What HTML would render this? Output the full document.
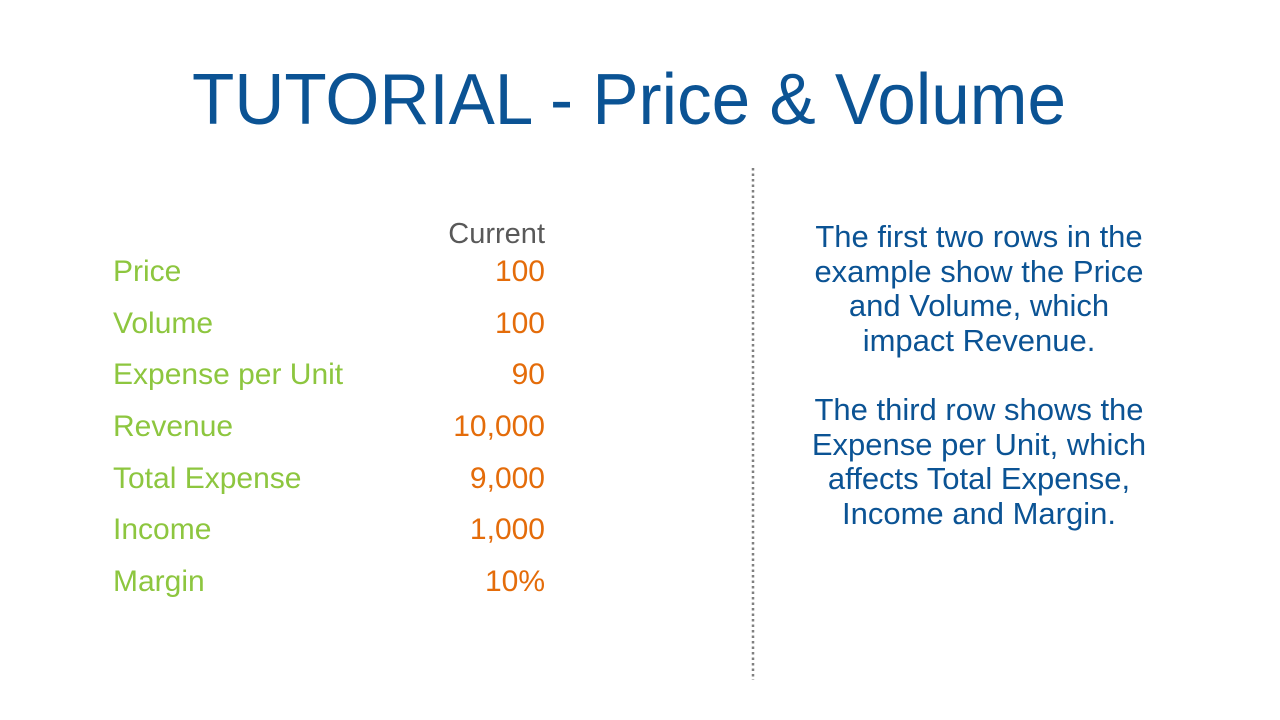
<!DOCTYPE html>
<html><head><meta charset="utf-8"><style>
html,body{margin:0;padding:0;background:#fff;}
svg{display:block;font-family:"Liberation Sans",sans-serif;}
</style></head><body>
<svg width="1280" height="720" viewBox="0 0 1280 720">
<text x="629" y="124" text-anchor="middle" font-size="72" fill="#0b5394" textLength="874" lengthAdjust="spacingAndGlyphs">TUTORIAL - Price &amp; Volume</text>
<text x="545" y="243" text-anchor="end" font-size="29" fill="#595959">Current</text>
<g font-size="30" fill="#8dc63f">
<text x="113" y="281">Price</text>
<text x="113" y="333">Volume</text>
<text x="113" y="384">Expense per Unit</text>
<text x="113" y="436">Revenue</text>
<text x="113" y="488">Total Expense</text>
<text x="113" y="539">Income</text>
<text x="113" y="591">Margin</text>
</g>
<g font-size="30" fill="#e46c0a" text-anchor="end">
<text x="545" y="281">100</text>
<text x="545" y="333">100</text>
<text x="545" y="384">90</text>
<text x="545" y="436">10,000</text>
<text x="545" y="488">9,000</text>
<text x="545" y="539">1,000</text>
<text x="545" y="591">10%</text>
</g>
<line x1="753" y1="168" x2="753" y2="680" stroke="#808080" stroke-width="2.5" stroke-dasharray="2.5 3"/>
<g font-size="31" fill="#0b5394" text-anchor="middle">
<text x="979" y="247">The first two rows in the</text>
<text x="979" y="282">example show the Price</text>
<text x="979" y="316">and Volume, which</text>
<text x="979" y="351">impact Revenue.</text>
<text x="979" y="420">The third row shows the</text>
<text x="979" y="455">Expense per Unit, which</text>
<text x="979" y="489">affects Total Expense,</text>
<text x="979" y="524">Income and Margin.</text>
</g>
</svg>
</body></html>
